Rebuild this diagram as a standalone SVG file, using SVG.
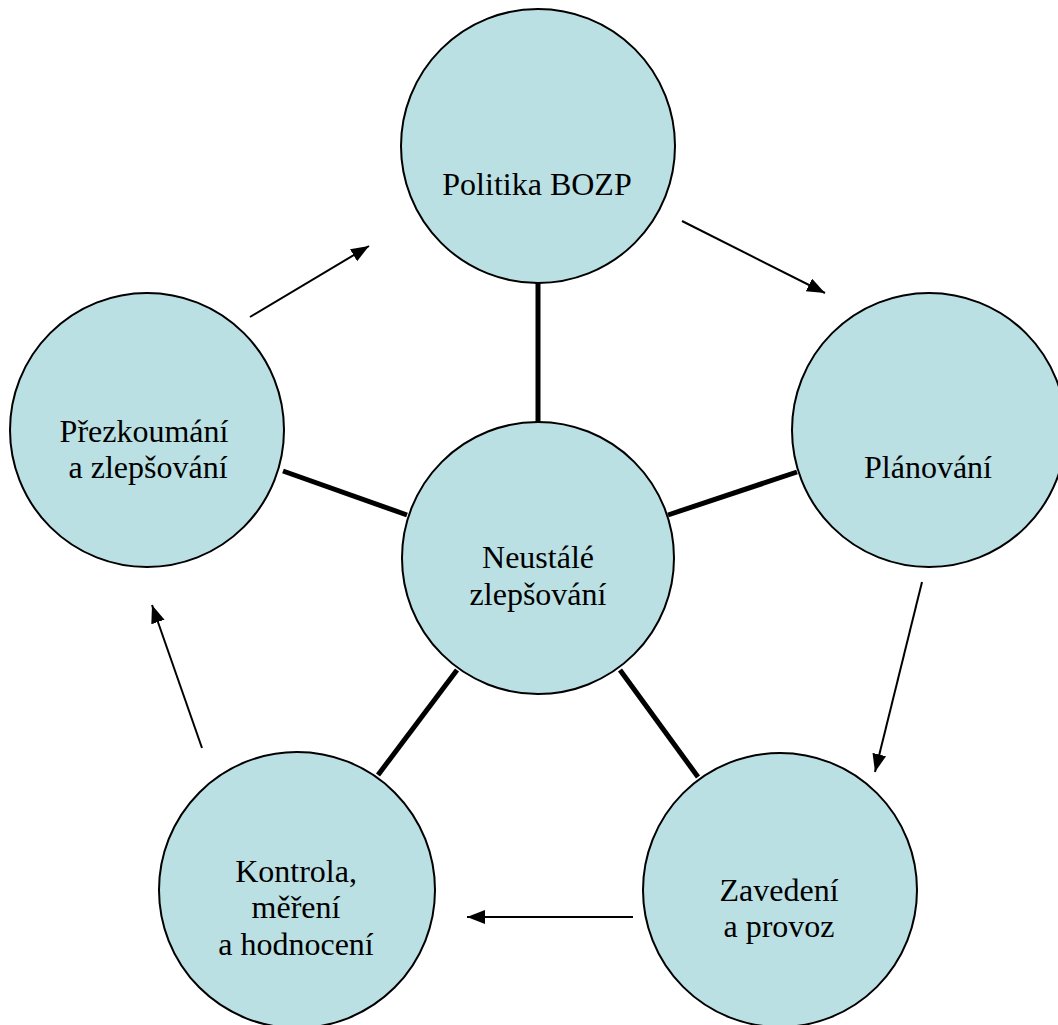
<svg xmlns="http://www.w3.org/2000/svg" width="1058" height="1025" viewBox="0 0 1058 1025">
<style>
.node{fill:#BBE0E3;stroke:#000;stroke-width:2}
.lbl{font-family:"Liberation Serif","Times New Roman",serif;font-size:32px;fill:#000;text-anchor:middle}
.spoke{stroke:#000;stroke-width:5;fill:none}
.arr{stroke:#000;stroke-width:2;fill:none;marker-end:url(#ah)}
</style>
<defs>
<marker id="ah" markerUnits="userSpaceOnUse" markerWidth="20" markerHeight="16" refX="18" refY="7" orient="auto">
<path d="M0,0 L18,7 L0,14 z" fill="#000"/>
</marker>
</defs>
<rect width="1058" height="1025" fill="#fff"/>
<g id="connectors">
<line class="spoke" x1="538" y1="283" x2="538" y2="422"/>
<line class="spoke" x1="668" y1="515" x2="797" y2="472"/>
<line class="spoke" x1="283" y1="471" x2="407" y2="515"/>
<line class="spoke" x1="457" y1="670" x2="378" y2="775"/>
<line class="spoke" x1="620" y1="670" x2="698" y2="777"/>
<line class="arr" x1="250" y1="317" x2="369" y2="246"/>
<line class="arr" x1="682" y1="221" x2="825" y2="293"/>
<line class="arr" x1="922" y1="582" x2="875" y2="772"/>
<line class="arr" x1="633" y1="917" x2="467" y2="917"/>
<line class="arr" x1="202" y1="748" x2="152" y2="605"/>
</g>
<g id="node-politika">
<circle class="node" cx="538" cy="146" r="137"/>
<text class="lbl" x="537" y="195">Politika BOZP</text>
</g>
<g id="node-planovani">
<circle class="node" cx="929" cy="430" r="137"/>
<text class="lbl" x="928" y="478">Plánování</text>
</g>
<g id="node-prezkoumani">
<circle class="node" cx="147" cy="430" r="137"/>
<text class="lbl" x="144" y="442">Přezkoumání</text>
<text class="lbl" x="148" y="478">a zlepšování</text>
</g>
<g id="node-neustale">
<circle class="node" cx="538" cy="558" r="136"/>
<text class="lbl" x="538" y="568">Neustálé</text>
<text class="lbl" x="538" y="605">zlepšování</text>
</g>
<g id="node-zavedeni">
<circle class="node" cx="780" cy="890" r="137"/>
<text class="lbl" x="779" y="901">Zavedení</text>
<text class="lbl" x="779" y="937">a provoz</text>
</g>
<g id="node-kontrola">
<circle class="node" cx="297" cy="890" r="138"/>
<text class="lbl" x="296" y="882">Kontrola,</text>
<text class="lbl" x="296" y="918">měření</text>
<text class="lbl" x="296" y="955">a hodnocení</text>
</g>
</svg>
